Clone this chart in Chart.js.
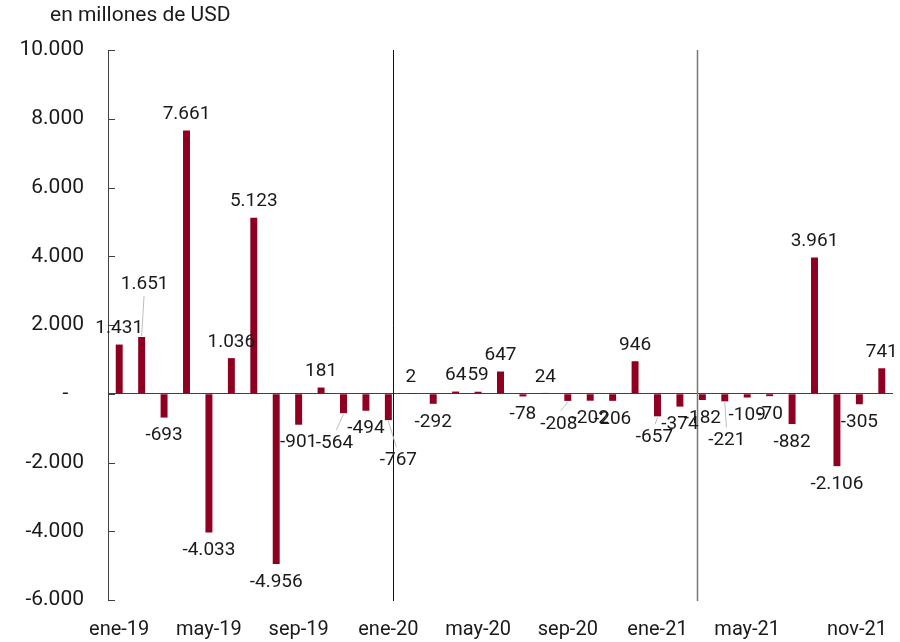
<!DOCTYPE html>
<html>
<head>
<meta charset="utf-8">
<script src="https://cdn.jsdelivr.net/npm/chart.js@4.4.1/dist/chart.umd.min.js"></script>
<style>
  html, body { margin: 0; padding: 0; background: #ffffff; }
  canvas { display: block; }
</style>
</head>
<body>
<canvas id="c" width="900" height="642"></canvas>
<script>
// ---- data ----
const categories = [
  'ene-19','feb-19','mar-19','abr-19','may-19','jun-19','jul-19','ago-19','sep-19','oct-19','nov-19','dic-19',
  'ene-20','feb-20','mar-20','abr-20','may-20','jun-20','jul-20','ago-20','sep-20','oct-20','nov-20','dic-20',
  'ene-21','feb-21','mar-21','abr-21','may-21','jun-21','jul-21','ago-21','sep-21','oct-21','nov-21'
];
const values = [
  1431, 1651, -693, 7661, -4033, 1036, 5123, -4956, -901, 181, -564, -494,
  -767, 2, -292, 64, 59, 647, -78, 24, -208, -202, -206, 946,
  -657, -374, -182, -221, -109, -70, -882, 3961, -2106, -305, 741
];
const xTickLabels = ['ene-19','may-19','sep-19','ene-20','may-20','sep-20','ene-21','may-21','nov-21'];
const yTicks = { min: -6000, max: 10000, step: 2000 };
const unitTitle = 'en millones de USD';
const separators = [12.21, 25.76]; // positions on the category axis (index units)

// ---- helpers ----
function fmt(v) {
  const s = Math.abs(Math.round(v)).toString().replace(/\B(?=(\d{3})+(?!\d))/g, '.');
  return (v < 0 ? '-' : '') + s;
}
const FONT = 'Roboto, "Noto Sans", sans-serif';
const TXT = '#1a1a1a';
const AXIS = '#404040';

// label adjustments (pixels) for labels moved off their default spot, with leader lines
const labelTweaks = {
  1:  { dx: 3,  dy: -37 },
  10: { dx: -9, dy: 12 },
  12: { dx: 10, dy: 22 },
  20: { dx: -9, dy: 5 },
  24: { dx: -3, dy: 3 },
  27: { dx: 2,  dy: 21 }
};

const decorPlugin = {
  id: 'decor',
  afterDraw(chart) {
    const ctx = chart.ctx;
    const ca = chart.chartArea;
    const xs = chart.scales.x, ys = chart.scales.y;
    ctx.save();
    // title
    ctx.fillStyle = TXT;
    ctx.font = '21px ' + FONT;
    ctx.textAlign = 'left';
    ctx.textBaseline = 'middle';
    ctx.fillText(unitTitle, 50, 16);

    // inward tick marks on y axis
    ctx.strokeStyle = AXIS;
    ctx.lineWidth = 1;
    ys.ticks.forEach(t => {
      const y = Math.round(ys.getPixelForValue(t.value)) + 0.5;
      ctx.beginPath();
      ctx.moveTo(ca.left, y);
      ctx.lineTo(ca.left + 7, y);
      ctx.stroke();
    });

    // separators
    separators.forEach((p, i) => {
      const x = Math.round(xs.getPixelForValue(p)) + 0.5;
      ctx.strokeStyle = i === 0 ? '#111111' : '#777777';
      ctx.lineWidth = i === 0 ? 1 : 1.5;
      ctx.beginPath();
      ctx.moveTo(x, ca.top);
      ctx.lineTo(x, ca.bottom + 1);
      ctx.stroke();
    });

    // data labels
    const meta = chart.getDatasetMeta(0);
    ctx.font = '19px ' + FONT;
    ctx.textAlign = 'center';
    ctx.textBaseline = 'middle';
    meta.data.forEach((el, i) => {
      const v = values[i];
      const neg = v < 0;
      let lx = el.x;
      let ly = neg ? el.y + 18 : el.y - 16;
      const tw = labelTweaks[i];
      if (tw) {
        lx += tw.dx;
        ly += tw.dy;
        const sx = el.x, sy = el.y + (neg ? 1 : -1);
        const ex = el.x + (lx - el.x) * 0.8;
        const ey = neg ? ly - 13 : ly + 12;
        ctx.strokeStyle = '#bdbdbd';
        ctx.lineWidth = 1;
        ctx.beginPath();
        ctx.moveTo(sx, sy);
        ctx.lineTo(ex, ey);
        ctx.stroke();
      }
      ctx.fillStyle = TXT;
      ctx.fillText(fmt(v), lx, ly);
    });
    ctx.restore();
  }
};

new Chart(document.getElementById('c'), {
  type: 'bar',
  data: {
    labels: categories,
    datasets: [{
      data: values,
      backgroundColor: '#8f0020',
      borderWidth: 0,
      barPercentage: 0.31,
      categoryPercentage: 1.0
    }]
  },
  options: {
    responsive: false,
    animation: false,
    layout: { padding: { top: 50, right: 7, bottom: 0, left: 0 } },
    plugins: { legend: { display: false }, tooltip: { enabled: false }, title: { display: false } },
    scales: {
      x: {
        grid: { display: false },
        border: { display: false },
        ticks: {
          autoSkip: false, maxRotation: 0, minRotation: 0,
          color: TXT, font: { family: FONT, size: 20 }, padding: 10,
          callback: function(val, idx) {
            const lab = categories[idx];
            if (!xTickLabels.includes(lab)) return '';
            return lab === 'nov-21' ? lab + '          ' : lab;
          }
        },
        afterFit: s => { s.height = 42; s.paddingLeft = 0; s.paddingRight = 0; }
      },
      y: {
        min: yTicks.min, max: yTicks.max,
        ticks: {
          stepSize: yTicks.step, color: TXT, font: { family: FONT, size: 21 }, padding: 24,
          callback: v => v === 0 ? '-   ' : fmt(v)
        },
        grid: {
          drawTicks: false,
          color: c => (c.tick && c.tick.value === 0) ? AXIS : 'rgba(0,0,0,0)',
          lineWidth: 1
        },
        border: { display: true, color: AXIS, width: 1 },
        afterFit: s => { s.width = 108; }
      }
    }
  },
  plugins: [decorPlugin]
});
</script>
</body>
</html>
